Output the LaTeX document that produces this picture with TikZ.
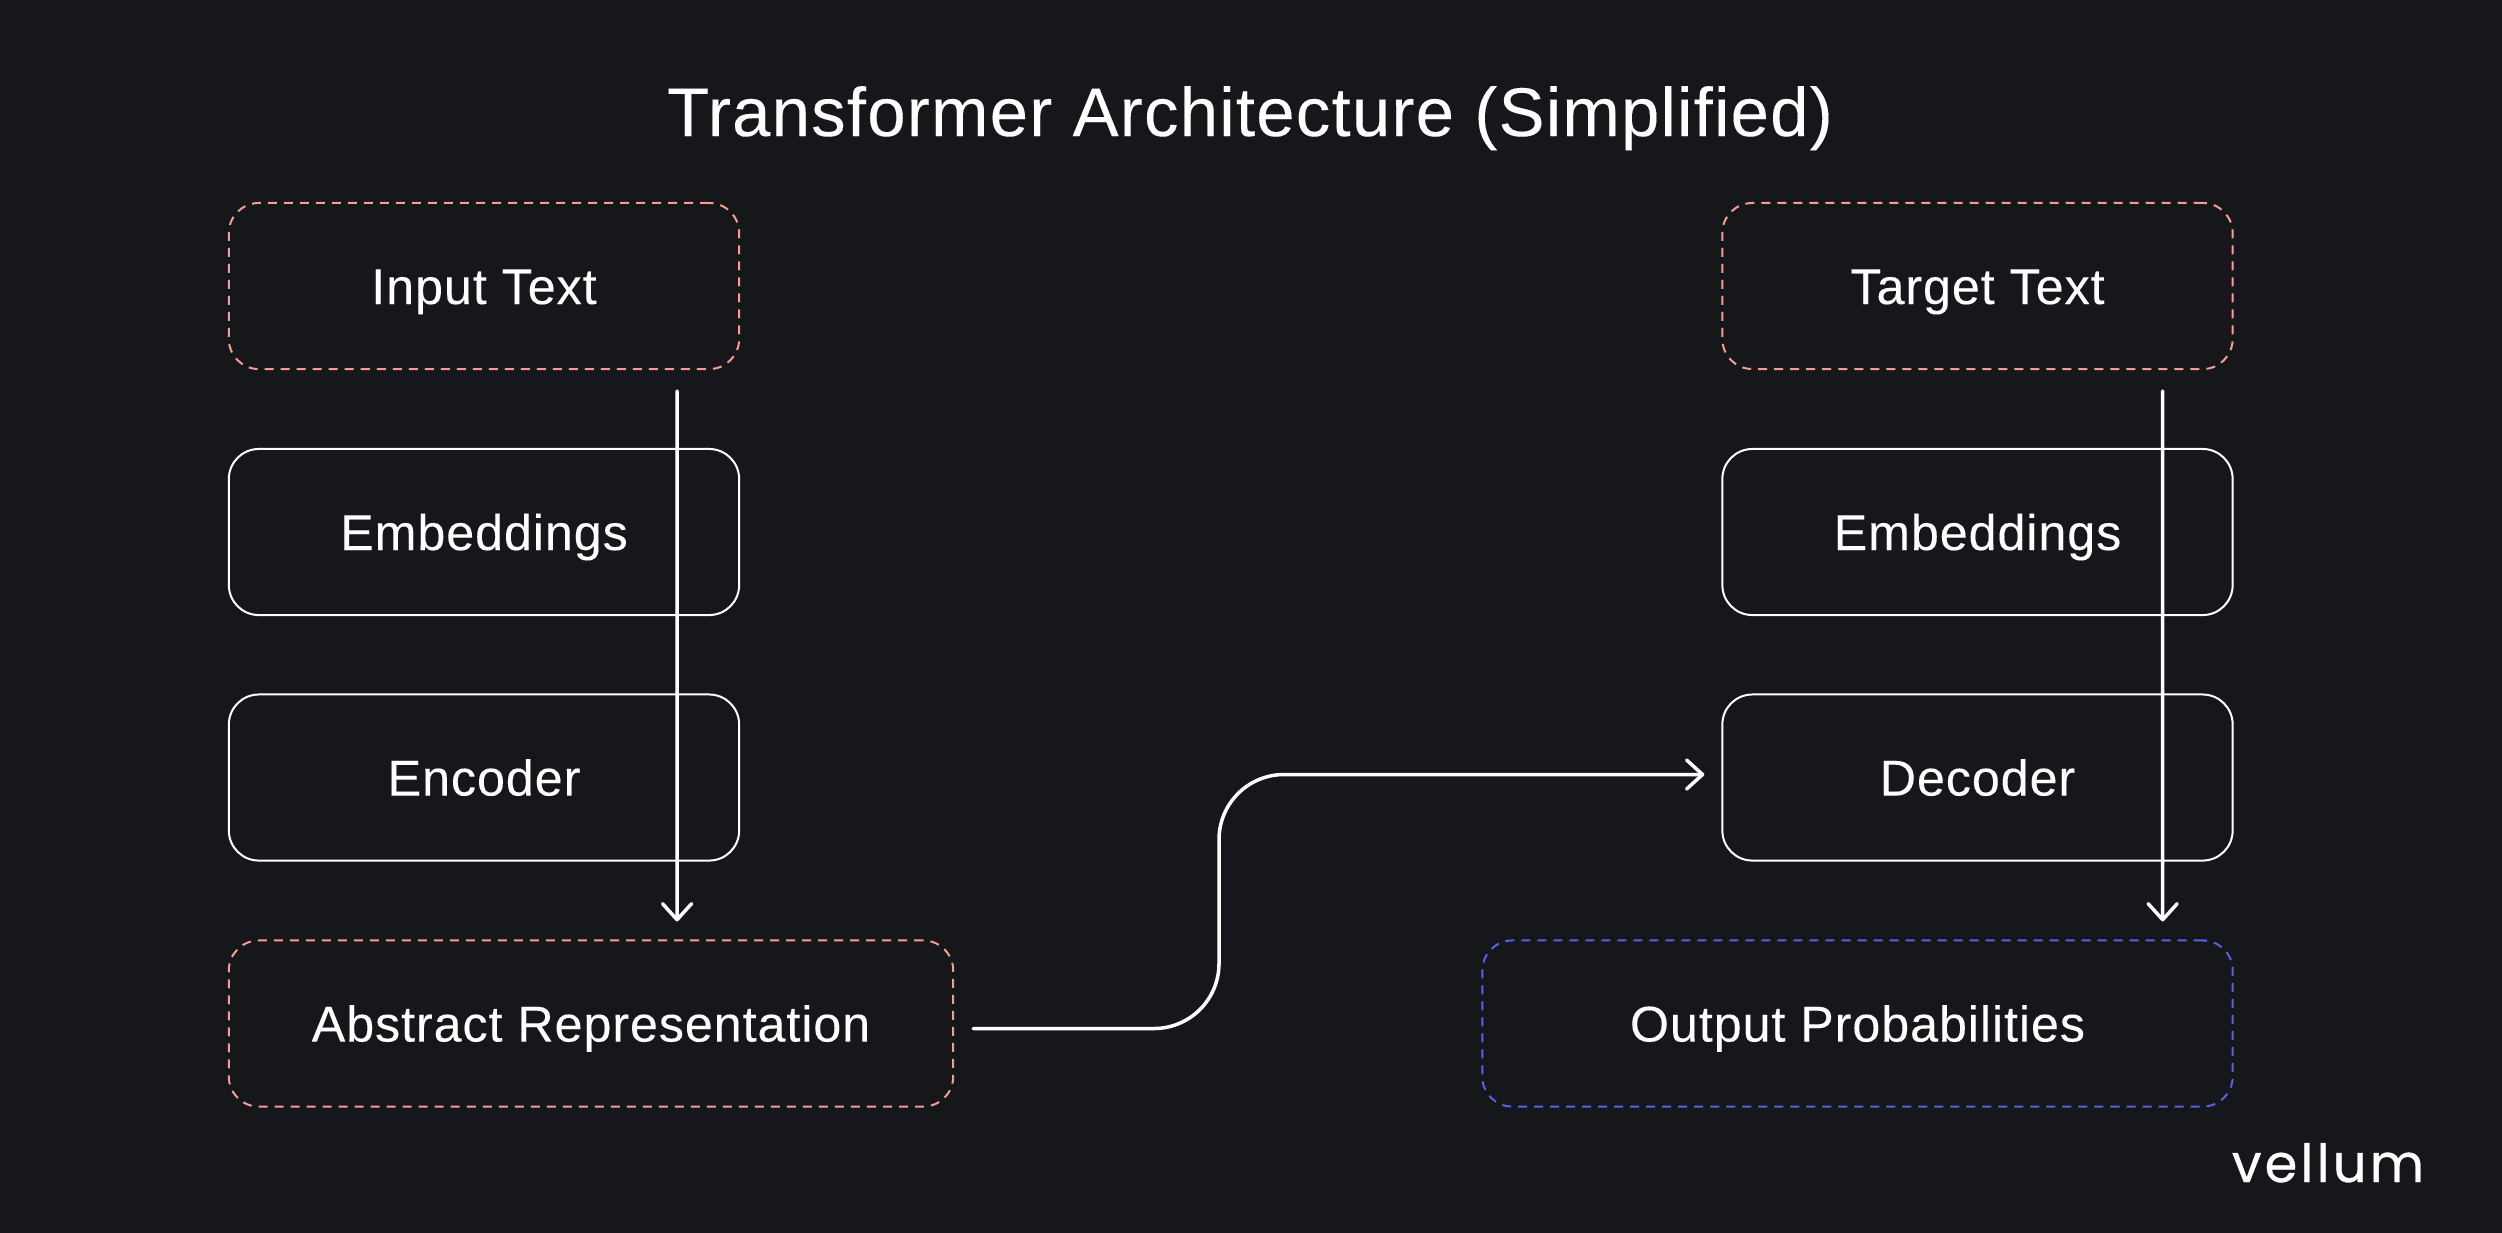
\documentclass[tikz,border=0pt]{standalone}
\usepackage{fontspec}
\usepackage{xcolor}
\setmainfont{Liberation Sans}[LetterSpace=1.8,FakeBold=0.12]
\newfontfamily\logofont{Poppins}[LetterSpace=6,FakeBold=0.6]
\usetikzlibrary{positioning,calc,arrows.meta}
\definecolor{bgdark}{HTML}{16171B}
\definecolor{dashpink}{HTML}{FB9A90}
\definecolor{dashblue}{HTML}{5560EE}

\begin{document}
\begin{tikzpicture}[
						x=0.01cm, y=-0.01cm,
						box/.style={
							draw=white,
							line width=0.02cm,
							rounded corners=0.30cm,
							minimum width=5.10cm,
							minimum height=1.66cm,
							inner sep=0pt,
							outer sep=0pt,
							text=white,
							text height=0.36cm,
							text depth=0pt,
							font=\fontsize{14.3pt}{16pt}\selectfont,
							anchor=center
						},
						dashbox/.style={           % dashed outline
							box,
							draw=#1,
							dash pattern=on 0.09cm off 0.07cm
						},
						flow/.style={              % white arrow
							-{Straight Barb[length=0.16cm,width=0.29cm,round]},
							white, line width=0.035cm,
							line cap=round
						}
						]
						% --- background ---
						\useasboundingbox (0,0) rectangle (2502,1232);
						\fill[bgdark] (-5,-5) rectangle (2507,1237);
						
						% --- title and logo ---
						\node[text=white, text height=0.48cm, text depth=0pt, inner sep=0pt, font=\fontsize{19.6pt}{22pt}\selectfont] (title) at (1250,112) {Transformer Architecture (Simplified)};
						\node[text=white, text height=0.50cm, text depth=0pt, inner sep=0pt, font=\logofont\fontsize{15pt}{18pt}\selectfont] (logo) at (2328,1157) {vellum};
						
						% --- left column ---
						\node[dashbox=dashpink] (input) at (484,286) {Input Text};
						\node[box] (embedleft) at (484,532) {Embeddings};
						\node[box] (encoder) at (484,777.5) {Encoder};
						\node[dashbox=dashpink, minimum width=7.24cm] (abstract) at (591,1023.5) {Abstract Representation};
						
						% --- right column ---
						\node[dashbox=dashpink] (target) at (1977.5,286) {Target Text};
						\node[box] (embedright) at (1977.5,532) {Embeddings};
						\node[box] (decoder) at (1977.5,777.5) {Decoder};
						\node[dashbox=dashblue, minimum width=7.50cm] (output) at (1857.5,1023.5) {Output Probabilities};
						
						% --- arrows ---
						\draw[flow] ([xshift=1.93cm,yshift=-0.22cm]input.south) -- ([xshift=0.86cm,yshift=0.19cm]abstract.north);
						\draw[flow] ([xshift=1.85cm,yshift=-0.22cm]target.south) -- ([xshift=3.05cm,yshift=0.19cm]output.north);
						\coordinate (turn) at (1219,900);
						\draw[flow, rounded corners=0.65cm] ([xshift=0.20cm,yshift=-0.05cm]abstract.east) -| (turn) |- ([xshift=-0.18cm,yshift=0.03cm]decoder.west);
						
\end{tikzpicture}
\end{document}
